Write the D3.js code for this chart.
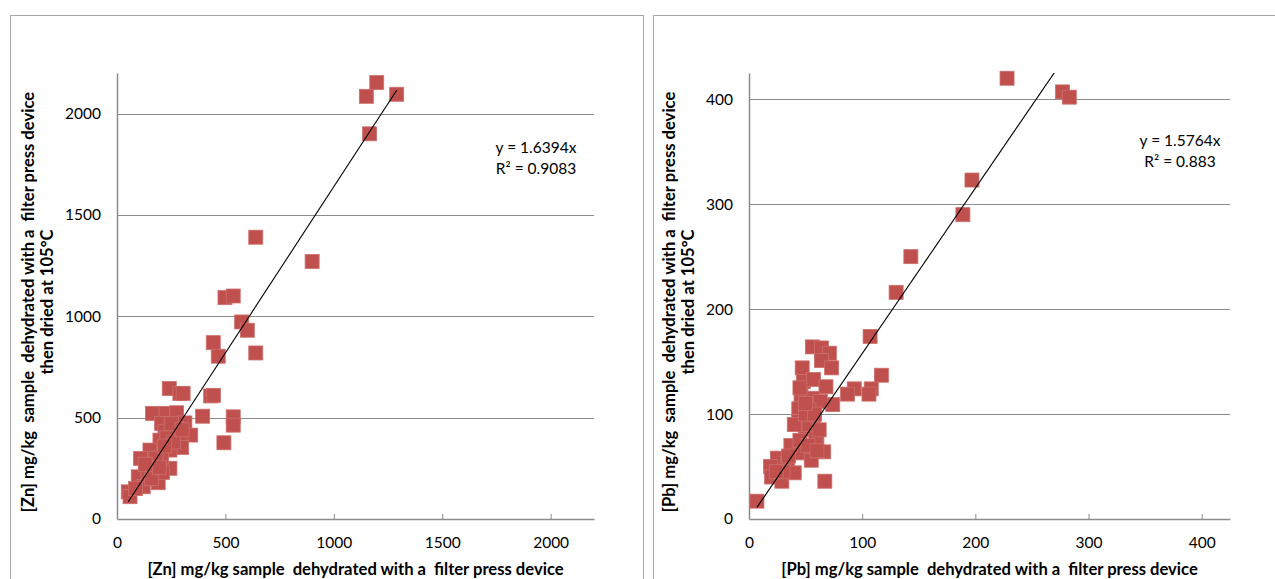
<!DOCTYPE html>
<html>
<head>
<meta charset="utf-8">
<script src="https://cdn.jsdelivr.net/npm/d3@7"></script>
<style>
  html, body { margin: 0; padding: 0; background: #fff; }
  svg { display: block; }
  text { font-family: Lato, "Open Sans", sans-serif; fill: #000; white-space: pre; }
</style>
</head>
<body>
<svg id="chart" width="1275" height="579"></svg>
<script>
// ---- Data: Zn (left panel) ----
const znX = [1198,1150,1290,1165,640,900,498,536,575,601,640,444,467,432,445,241,290,305,164,226,275,395,536,536,313,206,340,221,290,198,298,244,152,109,175,244,98,190,121,52,60,493,143,206,275,230,180,210,260,130,160,250,300,220,195,85];
const znY = [2153,2085,2095,1900,1390,1270,1092,1100,972,931,819,870,803,607,610,644,619,620,521,521,524,507,504,463,474,471,414,430,405,389,353,340,340,299,266,250,208,179,159,134,110,376,217,307,447,400,300,230,380,270,200,470,440,360,255,150];
const znSlope = 1.6394;
const znEq = ["y = 1.6394x", "R² = 0.9083"];
const znTicks = [0, 500, 1000, 1500, 2000];
const znMax = 2200;

// ---- Data: Pb (right panel) ----
const pbX = [228,277,283,197,189,143,130,107,117,108,106,93,87,74,56,64,71,64,73,47,48,57,68,46,56,63,44,53,44,57,50,60,40,53,59,66,49,25,34,19,20,29,40,67,7,55,43,37,45,52,60,30,24,35,50,45,58,62,50];
const pbY = [420,407,402,323,290,250,216,174,137,124,119,124,119,109,164,163,158,151,144,144,131,133,126,117,115,112,105,104,93,94,85,78,90,90,77,64,64,58,53,50,40,36,44,36,17,56,63,70,75,70,65,45,45,60,100,125,100,85,110];
const pbSlope = 1.5764;
const pbEq = ["y = 1.5764x", "R² = 0.883"];
const pbTicks = [0, 100, 200, 300, 400];
const pbMax = 425;

const yTitle1 = ["[Zn] mg/kg  sample  dehydrated with a  filter press device", "[Pb] mg/kg  sample  dehydrated with a  filter press device"];
const yTitle2 = "then dried at 105°C";
const xTitles = ["[Zn] mg/kg sample  dehydrated with a  filter press device", "[Pb] mg/kg sample  dehydrated with a  filter press device"];

const svg = d3.select("#chart");
const tickFont = "15.5px";
const titleFont = "16.6px";

function panel(cfg) {
  const g = svg.append("g");
  g.append("rect")
    .attr("x", cfg.frame[0] + 0.5).attr("y", cfg.frame[1] + 0.5)
    .attr("width", cfg.frame[2]).attr("height", cfg.frame[3])
    .attr("fill", "none").attr("stroke", "#A6A6A6").attr("stroke-width", 1);

  const x = d3.scaleLinear().domain([0, cfg.max]).range([cfg.left, cfg.right]);
  const y = d3.scaleLinear().domain([0, cfg.max]).range([cfg.bottom, cfg.top]);

  const clipId = "clip" + cfg.id;
  svg.append("clipPath").attr("id", clipId).append("rect")
    .attr("x", cfg.left).attr("y", cfg.top)
    .attr("width", cfg.right - cfg.left).attr("height", cfg.bottom - cfg.top);

  g.append("g").selectAll("line").data(cfg.ticks.filter(d => d > 0)).join("line")
    .attr("x1", cfg.left).attr("x2", cfg.right)
    .attr("y1", d => Math.round(y(d)) + 0.5).attr("y2", d => Math.round(y(d)) + 0.5)
    .attr("stroke", "#8C8C8C").attr("stroke-width", 1);

  const fmt = d3.format("d");
  const yAxis = g.append("g").attr("transform", `translate(${cfg.left},0)`)
    .call(d3.axisLeft(y).tickValues(cfg.ticks).tickFormat(fmt).tickSize(0).tickPadding(16));
  yAxis.select(".domain").attr("stroke", "#8C8C8C").attr("stroke-width", 1.5);
  yAxis.selectAll("text").style("font-size", tickFont).style("font-family", "Lato, sans-serif").attr("fill", "#000");

  const xAxis = g.append("g").attr("transform", `translate(0,${cfg.bottom})`)
    .call(d3.axisBottom(x).tickValues(cfg.ticks).tickFormat(fmt).tickSizeInner(-5).tickSizeOuter(0).tickPadding(18));
  xAxis.select(".domain").attr("stroke", "#8C8C8C").attr("stroke-width", 1.5);
  xAxis.selectAll(".tick line").attr("stroke", "#8C8C8C");
  xAxis.selectAll(".tick").filter(d => d === 0).select("line").remove();
  xAxis.selectAll("text").style("font-size", tickFont).style("font-family", "Lato, sans-serif").attr("fill", "#000");

  const pts = cfg.xs.map((v, i) => [v, cfg.ys[i]]);
  const s = 14;
  g.append("g").selectAll("rect").data(pts).join("rect")
    .attr("x", d => x(d[0]) - s / 2).attr("y", d => y(d[1]) - s / 2)
    .attr("width", s).attr("height", s)
    .attr("fill", "#C0504D").attr("stroke", "#CC6F6C").attr("stroke-width", 0.8);

  const xmin = d3.min(cfg.xs), xmax = d3.max(cfg.xs);
  g.append("line").attr("clip-path", `url(#${clipId})`)
    .attr("x1", x(xmin)).attr("y1", y(cfg.slope * xmin))
    .attr("x2", x(xmax)).attr("y2", y(cfg.slope * xmax))
    .attr("stroke", "#000").attr("stroke-width", 1.1);

  const eq = g.append("text").attr("text-anchor", "middle").style("font-size", tickFont);
  eq.append("tspan").attr("x", cfg.eqX).attr("y", cfg.eqY).text(cfg.eq[0]);
  eq.append("tspan").attr("x", cfg.eqX).attr("y", cfg.eqY + 21).text(cfg.eq[1]);

  const cy = (cfg.top + cfg.bottom) / 2 + 6;
  const yt = g.append("text").attr("text-anchor", "middle")
    .attr("transform", `translate(${cfg.yTitleX},${cy}) rotate(-90)`)
    .style("font-size", titleFont).style("font-weight", "bold");
  yt.append("tspan").attr("x", 0).attr("y", 0).text(cfg.yTitle1);
  yt.append("tspan").attr("x", 0).attr("y", 19).text(yTitle2);

  g.append("text").attr("text-anchor", "middle")
    .attr("x", (cfg.left + cfg.right) / 2).attr("y", 575)
    .style("font-size", titleFont).style("font-weight", "bold")
    .text(cfg.xTitle);
}

panel({ id: 0, frame: [10, 15, 633, 600], left: 117, right: 594, top: 73, bottom: 519,
  max: znMax, ticks: znTicks, xs: znX, ys: znY, slope: znSlope, eq: znEq, eqX: 536, eqY: 153,
  yTitle1: yTitle1[0], yTitleX: 34, xTitle: xTitles[0] });

panel({ id: 1, frame: [653, 15, 640, 600], left: 749, right: 1230, top: 73, bottom: 519,
  max: pbMax, ticks: pbTicks, xs: pbX, ys: pbY, slope: pbSlope, eq: pbEq, eqX: 1180, eqY: 146,
  yTitle1: yTitle1[1], yTitleX: 675, xTitle: xTitles[1] });
</script>
</body>
</html>
